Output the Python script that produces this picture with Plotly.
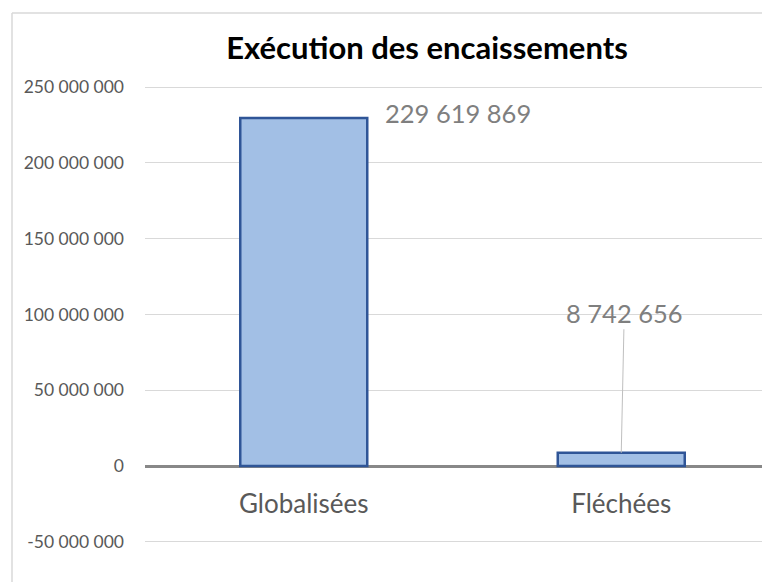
import plotly.graph_objects as go

categories = ["Globalisées", "Fléchées"]
values = [229619869, 8742656]
value_labels = ["229 619 869", "8 742 656"]
y_ticks = [-50000000, 0, 50000000, 100000000, 150000000, 200000000, 250000000]
y_tick_labels = ["-50 000 000", "0", "50 000 000", "100 000 000", "150 000 000", "200 000 000", "250 000 000"]
title_text = "Exécution des encaissements"

W, H = 770, 582
L, R, T, B = 137, 0, 72, 0
plot_h = H - T - B
zero_px = 458
zero_pos = (H - zero_px) / plot_h
PX_PER_UNIT = 1.516e-6

FONT = "Lato"
GREY = "#595959"

fig = go.Figure()
fig.add_trace(go.Bar(
    x=categories, y=values, width=0.4,
    marker=dict(color="#a2bfe5", line=dict(color="#2f5597", width=2.5)),
    hoverinfo="skip",
))

# value labels
fig.add_annotation(x=categories[0], y=values[0], text=value_labels[0], showarrow=False,
                   xanchor="center", yanchor="middle", xshift=154, yshift=5,
                   font=dict(family=FONT, size=25.5, color="#7f7f7f"))
fig.add_annotation(x=categories[1], y=values[1], text=value_labels[1], showarrow=True,
                   arrowhead=0, arrowwidth=1, arrowcolor="#bfbfbf", ax=3, ay=-140,
                   font=dict(family=FONT, size=25.5, color="#7f7f7f"))

# chart border
bx = (4 - L) / (W - L - R)
by = (H - 5) / plot_h
fig.add_shape(type="line", xref="paper", yref="paper",
              x0=bx, x1=bx, y0=-0.1, y1=by, line=dict(color="#d9d9d9", width=1.5))
fig.add_shape(type="line", xref="paper", yref="paper",
              x0=bx, x1=1.1, y0=by, y1=by, line=dict(color="#d9d9d9", width=1.5))

fig.update_layout(
    width=W, height=H,
    margin=dict(l=L, r=R, t=T, b=B, pad=0),
    paper_bgcolor="white", plot_bgcolor="white",
    showlegend=False,
    separators=", ",
    title=dict(text="<b>" + title_text + "</b>", x=(419 - L) / (W - L), xref="paper", xanchor="center",
               y=(H - 40) / H, yanchor="middle",
               font=dict(family=FONT, size=31, color="black")),
    xaxis=dict(
        range=[-0.5, -0.5 + (W - L) / 317.5],
        anchor="free", position=zero_pos,
        showgrid=False, showline=False, ticks="",
        tickfont=dict(family=FONT, size=26, color=GREY),
        ticklabelstandoff=20,
    ),
    yaxis=dict(
        range=[-(H - zero_px) / PX_PER_UNIT, (zero_px - T) / PX_PER_UNIT],
        tickvals=y_ticks, ticktext=y_tick_labels,
        showgrid=True, gridcolor="#d9d9d9", gridwidth=1,
        zeroline=True, zerolinecolor="#888888", zerolinewidth=2.5,
        showline=False, ticks="", ticklabelstandoff=20,
        tickfont=dict(family=FONT, size=17.5, color=GREY),
    ),
)

fig.write_html("out.html")
